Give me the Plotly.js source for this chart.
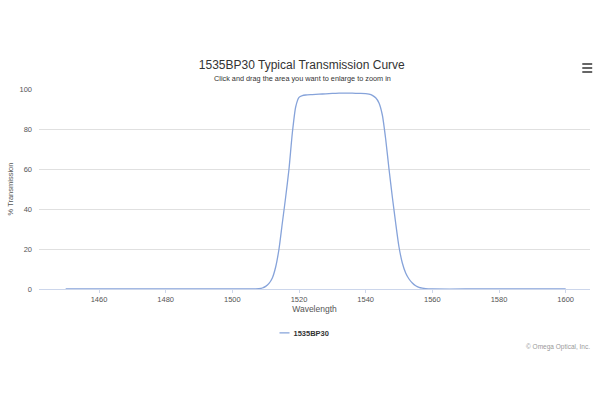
<!DOCTYPE html>
<html>
<head>
<meta charset="utf-8">
<script src="https://cdn.plot.ly/plotly-3.0.1.min.js"></script>
<style>html,body{margin:0;padding:0;background:#fff;}#chart{width:600px;height:400px;}</style>
</head>
<body>
<div id="chart"></div>
<script>
var chartTitle = "1535BP30 Typical Transmission Curve";
var chartSubtitle = "Click and drag the area you want to enlarge to zoom in";
var seriesName = "1535BP30";
var xTitle = "Wavelength";
var yTitle = "% Transmission";
var credit = "© Omega Optical, Inc.";

var wavelength = [1450, 1460, 1470, 1480, 1490, 1500, 1505, 1507, 1508, 1509, 1510, 1511, 1512, 1513, 1514, 1515, 1516, 1517, 1518, 1519, 1520, 1521, 1522, 1524, 1526, 1528, 1530, 1532, 1534, 1536, 1538, 1540, 1541, 1542, 1543, 1544, 1545, 1546, 1547, 1548, 1549, 1550, 1551, 1552, 1553, 1554, 1555, 1556, 1557, 1558, 1560, 1570, 1580, 1590, 1600];
var transmission = [0, 0, 0, 0, 0, 0, 0, 0.05, 0.15, 0.5, 1.3, 2.8, 5.5, 11, 20, 33, 46, 60, 78, 91, 95.8, 96.7, 97.0, 97.2, 97.4, 97.6, 97.8, 97.9, 97.9, 97.9, 97.8, 97.7, 97.4, 96.8, 95.6, 93, 87, 75, 60, 46, 33, 21, 13, 8, 5, 3, 1.6, 0.8, 0.4, 0.15, 0, 0, 0, 0, 0];
var xTicks = [1460, 1480, 1500, 1520, 1540, 1560, 1580, 1600];
var yTicks = [0, 20, 40, 60, 80, 100];

var FONT = '"Liberation Sans", Arial, sans-serif';

var trace = {
  x: wavelength,
  y: transmission,
  type: 'scatter',
  mode: 'lines',
  name: seriesName,
  line: {color: '#86a3da', width: 1.3, shape: 'spline', smoothing: 0.6},
  cliponaxis: false
};

var layout = {
  width: 600, height: 400,
  paper_bgcolor: '#fff', plot_bgcolor: '#fff',
  margin: {l: 39, r: 10, t: 89, b: 111},
  font: {family: FONT, color: '#666'},
  title: {
    text: chartTitle,
    font: {family: FONT, size: 12, color: '#333'},
    x: 0.503, xanchor: 'center', y: 0.838, yanchor: 'middle'
  },
  xaxis: {
    range: [1442, 1607.3],
    tickvals: xTicks,
    ticktext: xTicks.map(String),
    ticks: 'outside', ticklen: 3, tickcolor: '#ccd6eb', tickwidth: 1,
    showline: true, linecolor: '#ccd6eb', linewidth: 1,
    showgrid: false, zeroline: false,
    tickfont: {family: FONT, size: 7.5, color: '#555'},
    title: {text: xTitle, font: {family: FONT, size: 8.5, color: '#555'}, standoff: 3},
    fixedrange: true
  },
  yaxis: {
    range: [0, 100],
    tickvals: yTicks,
    showgrid: true, gridcolor: '#e0e0e0', gridwidth: 1,
    zeroline: false, showline: false,
    ticks: '', ticklabelstandoff: 6,
    tickfont: {family: FONT, size: 7.5, color: '#555'},
    title: {text: yTitle, font: {family: FONT, size: 7.5, color: '#555'}, standoff: 4},
    fixedrange: true
  },
  showlegend: true,
  legend: {
    orientation: 'h',
    xref: 'container', yref: 'container',
    x: 0.49, xanchor: 'center', y: 0.168, yanchor: 'middle',
    font: {family: FONT, size: 7.5, color: '#333', weight: 'bold'},
    itemwidth: 30
  },
  annotations: [
    {text: chartSubtitle, xref: 'paper', yref: 'paper', x: 0.479, y: 1.055, xanchor: 'center', yanchor: 'middle',
     showarrow: false, font: {family: FONT, size: 7.3, color: '#333'}},
    {text: credit, xref: 'paper', yref: 'paper', x: 1.003, y: -0.29, xanchor: 'right', yanchor: 'middle',
     showarrow: false, font: {family: FONT, size: 6.5, color: '#999'}}
  ],
  shapes: [
    {type: 'line', xref: 'paper', yref: 'paper', x0: 0.986, x1: 1.004, y0: 1.125, y1: 1.125, line: {color: '#555', width: 1.8}},
    {type: 'line', xref: 'paper', yref: 'paper', x0: 0.986, x1: 1.004, y0: 1.105, y1: 1.105, line: {color: '#555', width: 1.8}},
    {type: 'line', xref: 'paper', yref: 'paper', x0: 0.986, x1: 1.004, y0: 1.085, y1: 1.085, line: {color: '#555', width: 1.8}}
  ]
};

Plotly.newPlot('chart', [trace], layout, {displayModeBar: false, responsive: false}).then(function () {
  // shorten the legend swatch line to the short dash used in the reference
  document.querySelectorAll('.legend .legendlines path').forEach(function (p) {
    p.setAttribute('d', 'M26,0h10');
  });
});
</script>
</body>
</html>
